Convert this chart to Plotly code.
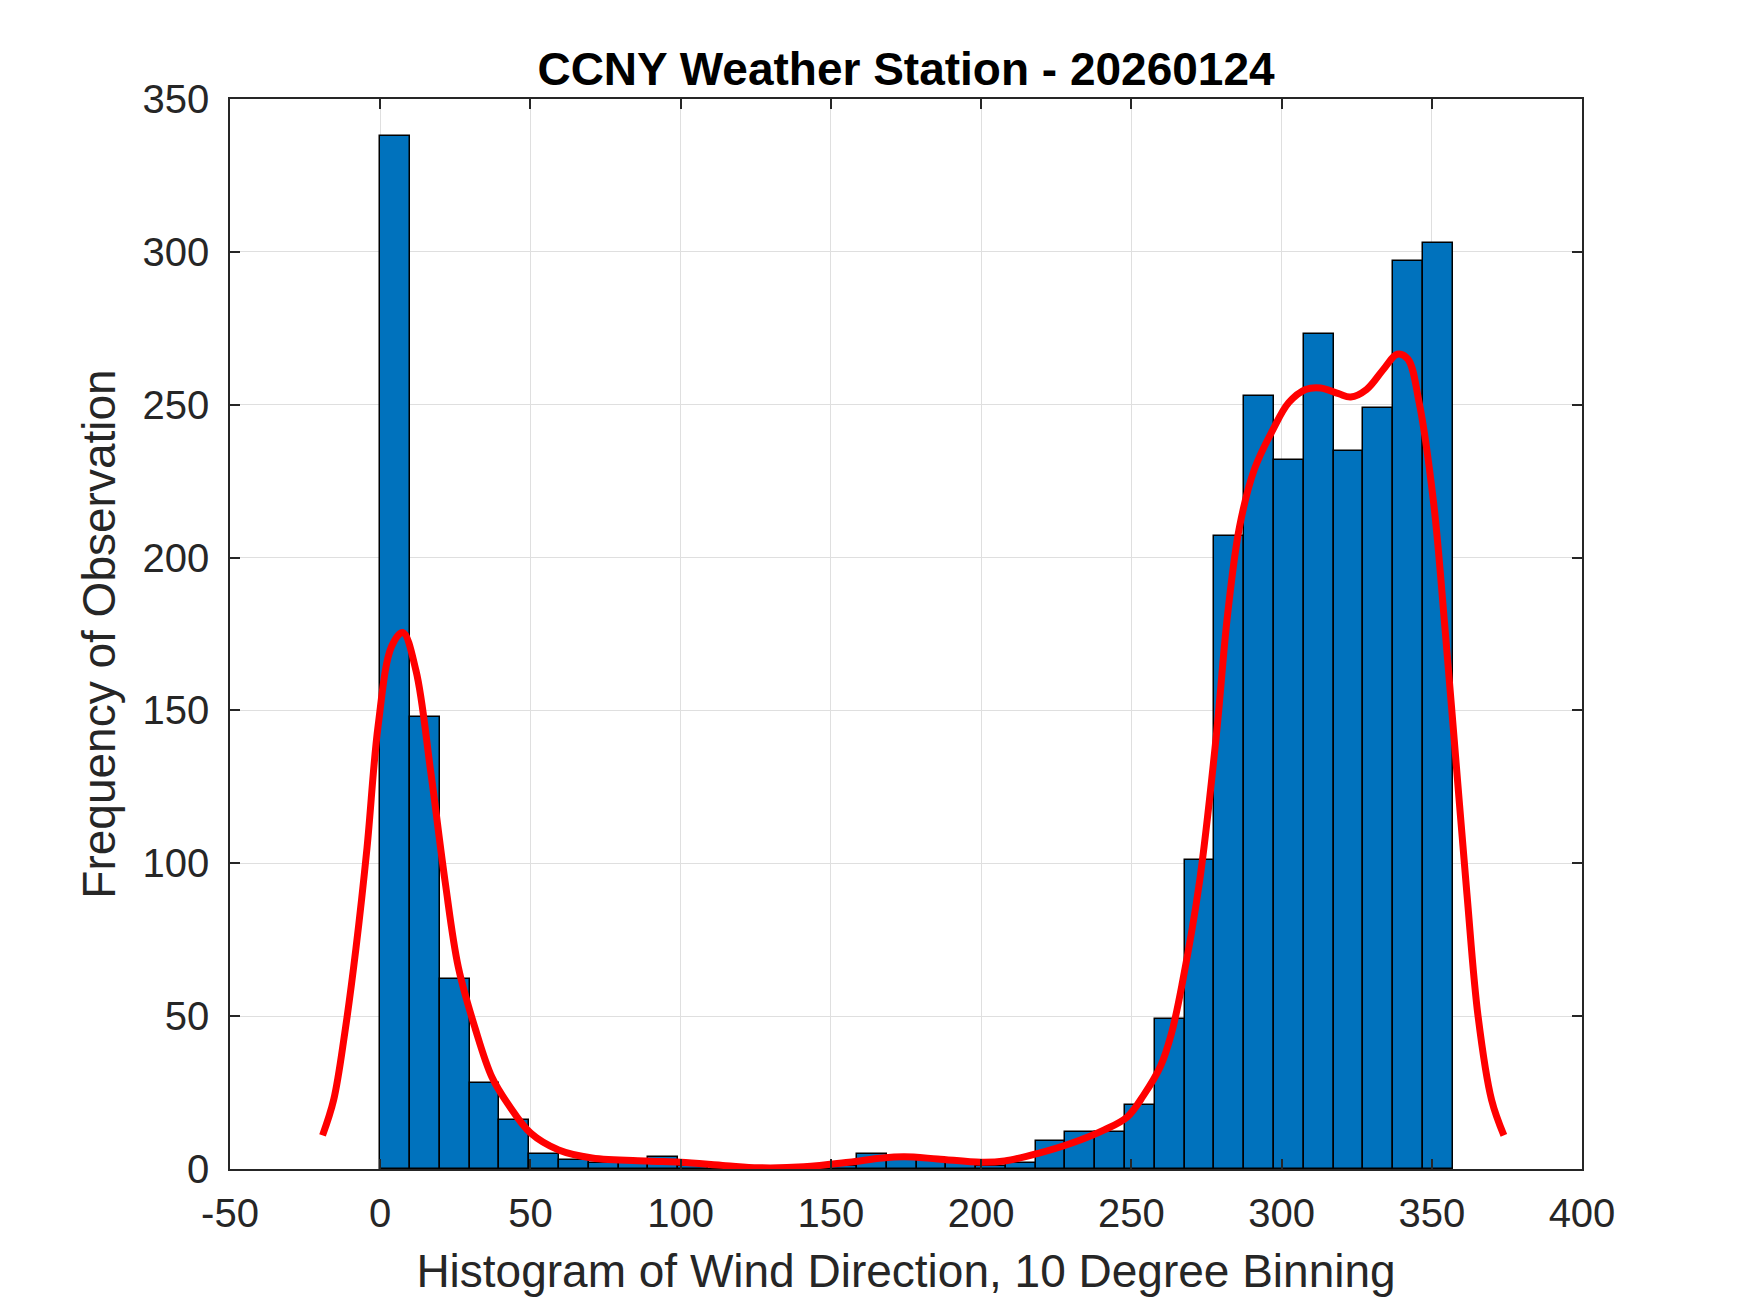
import plotly.graph_objs as go

# histogram: 36 equal bins spanning 0..357 degrees (hist with 36 bins)
dir_min = 0.0
dir_max = 357.0
n_bins = 36
counts = [338, 148, 62, 28, 16, 5, 3, 2, 2, 4,
          1, 0, 0, 0, 0, 1, 5, 4, 3, 2,
          1, 2, 9, 12, 12, 21, 49, 101, 207, 253,
          232, 273, 235, 249, 297, 303]

# smoothed density curve (scaled to counts)
kde_x = [-19.2, -15.5, -11.8, -8.1, -4.4, -0.7, 3.8, 7.5, 11.9, 16.8,
         21.6, 26.0, 31.6, 37.2, 42.7, 50.1, 59.4, 70.5, 89.0, 100.0,
         115.0, 126.0, 141.0, 156.0, 167.0, 174.4, 185.5, 200.0, 207.8, 219.0,
         230.0, 241.0, 248.6, 254.0, 259.7, 263.4, 267.0, 272.7, 278.2, 282.0,
         286.0, 291.0, 297.0, 302.4, 308.0, 313.0, 319.0, 323.0, 328.3, 334.0,
         338.5, 342.0, 345.8, 350.6, 354.3, 358.0, 361.7, 365.4, 369.9, 374.0]
kde_y = [11.0, 22.6, 44.5, 72.0, 105.0, 145.0, 171.0, 175.5, 163.0, 130.0,
         94.0, 66.0, 46.0, 30.0, 21.0, 11.7, 6.2, 3.6, 2.6, 2.2,
         1.1, 0.4, 0.7, 2.2, 3.6, 4.0, 3.3, 2.2, 2.6, 5.1,
         8.4, 12.8, 17.0, 24.0, 33.6, 44.5, 61.0, 94.0, 141.0, 181.0,
         210.0, 229.0, 241.6, 250.7, 255.0, 255.5, 253.6, 252.5, 255.0, 261.7,
         266.5, 265.0, 250.7, 218.0, 178.0, 134.0, 90.0, 50.0, 22.6, 11.0]

x_ticks = list(range(-50, 401, 50))
x_ticktext = [str(v) for v in x_ticks]   # plain hyphen for -50, like the original
y_ticks = list(range(0, 351, 50))

FONT = "Liberation Sans, Arial, Helvetica, sans-serif"
AX_COL = "#262626"

bw = (dir_max - dir_min) / n_bins
centers = [dir_min + bw * (i + 0.5) for i in range(n_bins)]

bars = go.Bar(x=centers, y=counts, width=bw,
              marker=dict(color="#0072BD", line=dict(color="black", width=1.5)),
              showlegend=False)
curve = go.Scatter(x=kde_x, y=kde_y, mode="lines", line_shape="spline",
                   line=dict(color="#FF0000", width=7), showlegend=False)

axis_common = dict(showline=True, linecolor=AX_COL, linewidth=1.5, mirror="ticks",
                   ticks="inside", ticklen=10, tickwidth=1.5, tickcolor=AX_COL,
                   showgrid=True, gridcolor="#DFDFDF", gridwidth=1.2,
                   zeroline=False, tickfont=dict(size=40, color=AX_COL, family=FONT))

# page has an 8px body margin, margins below account for it
layout = go.Layout(
    width=1750, height=1313,
    paper_bgcolor="white", plot_bgcolor="white",
    margin=dict(l=222, r=176, t=91, b=152),
    font=dict(family=FONT, color=AX_COL),
    title=dict(text="<b>CCNY Weather Station - 20260124</b>", x=0.5, xref="paper",
               y=1 - 61 / 1313, yref="container", yanchor="middle",
               font=dict(size=46, color="black", family=FONT)),
    xaxis=dict(range=[-50, 400], tickvals=x_ticks, ticktext=x_ticktext,
               ticklabelstandoff=8,
               title=dict(text="Histogram of Wind Direction, 10 Degree Binning",
                          font=dict(size=46, color=AX_COL, family=FONT), standoff=21),
               **axis_common),
    yaxis=dict(range=[0, 350], tickvals=y_ticks, ticklabelstandoff=11,
               title=dict(text="Frequency of Observation",
                          font=dict(size=46, color=AX_COL, family=FONT), standoff=12),
               **axis_common),
    bargap=0,
)

fig = go.Figure(data=[bars, curve], layout=layout)
fig.write_html("out.html")
